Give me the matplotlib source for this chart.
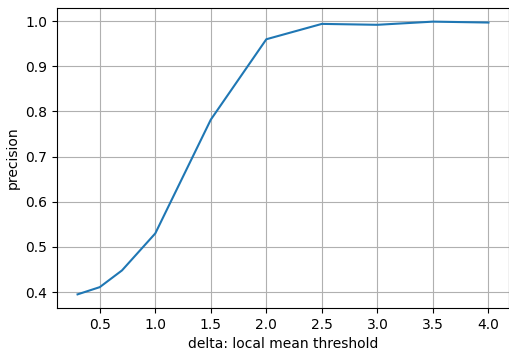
import matplotlib
matplotlib.use("Agg")
import matplotlib.pyplot as plt

# delta thresholds and precision
delta = [0.3, 0.5, 0.7, 1.0, 1.5, 2.0, 2.5, 3.0, 3.5, 4.0]
precision = [0.395, 0.411, 0.448, 0.530, 0.782, 0.960, 0.994, 0.992, 0.999, 0.997]

fig = plt.figure(figsize=(5.09, 3.51), dpi=100)
ax = fig.add_axes([57/509, 43/351, 452/509, 300/351])
ax.plot(delta, precision, color="#1f77b4", lw=1.5)
ax.set_xlabel("delta: local mean threshold")
ax.set_ylabel("precision")
ax.grid(True)
fig.savefig("out.png", dpi=100)
